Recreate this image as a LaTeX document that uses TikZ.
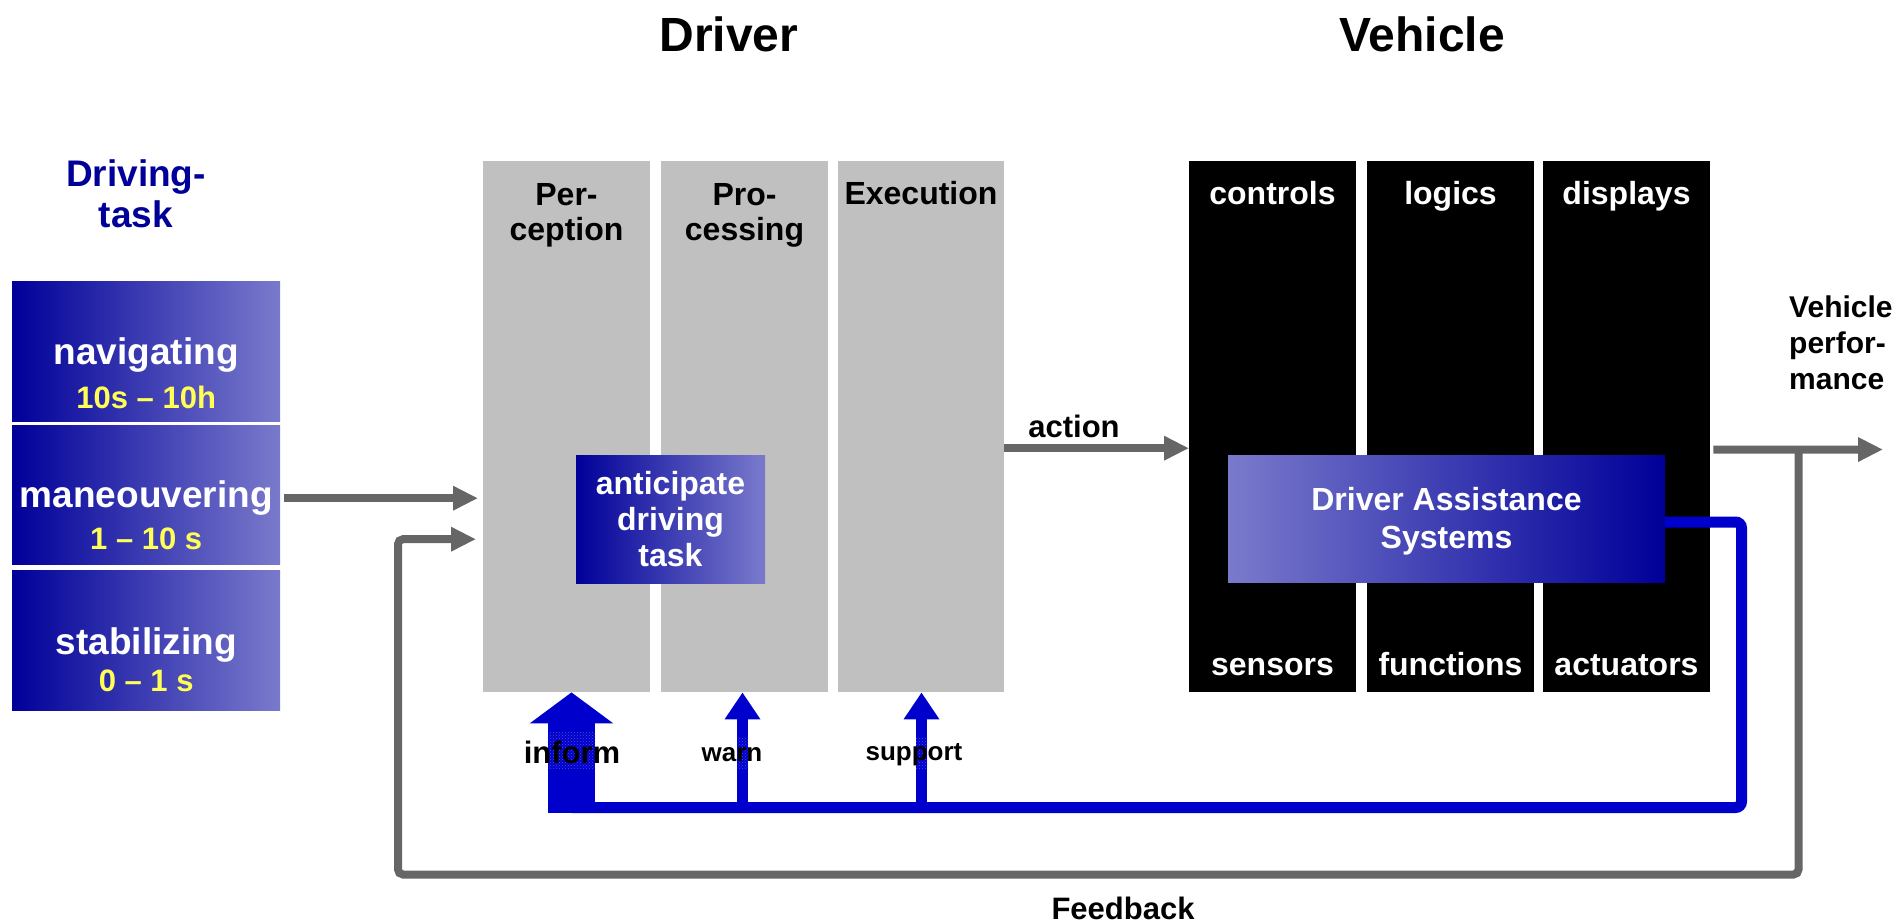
\documentclass[tikz,border=0pt]{standalone}
\usepackage{fontspec}
\setmainfont{Liberation Sans}
\usetikzlibrary{arrows.meta,patterns}

\definecolor{navy}{RGB}{0,0,153}
\definecolor{lav}{RGB}{122,122,204}
\definecolor{lineblue}{RGB}{0,0,204}
\definecolor{colgray}{RGB}{192,192,192}
\definecolor{arrgray}{RGB}{102,102,102}
\definecolor{timeyellow}{RGB}{255,255,85}

\tikzset{
  drvcol/.style={fill=colgray, minimum width=167pt, minimum height=531pt, inner sep=0pt, anchor=north west},
  vehcol/.style={fill=black, minimum width=167pt, minimum height=531pt, inner sep=0pt, anchor=north west},
  taskbox/.style={left color=navy, right color=lav, minimum width=268pt, minimum height=140pt, inner sep=0pt, anchor=north west},
  collabel/.style={inner sep=0pt, align=center, font=\bfseries\fontsize{32}{35}\selectfont},
  tasktext/.style={inner sep=0pt, text=white, font=\bfseries\fontsize{37}{40}\selectfont},
  timetext/.style={inner sep=0pt, text=timeyellow, font=\bfseries\fontsize{31}{34}\selectfont},
  garrow/.style={draw=arrgray, line width=8pt, -{Triangle[length=25pt,width=23pt]}},
  bline/.style={draw=lineblue, line width=11pt},
  barrow/.style={draw=lineblue, line width=11pt, -{Triangle[length=27pt,width=34pt]}},
  patch/.style={fill=white, pattern=crosshatch dots, pattern color=lineblue!70},
}

\begin{document}
\begin{tikzpicture}[x=1pt,y=-1pt]
\useasboundingbox (0,0) rectangle (1903,923);

% headings
\node[inner sep=0pt, font=\bfseries\fontsize{48}{52}\selectfont] (tdrv) at (729,34) {Driver};
\node[inner sep=0pt, font=\bfseries\fontsize{48}{52}\selectfont] (tveh) at (1422,34) {Vehicle};
\node[inner sep=0pt, align=center, text=navy, font=\bfseries\fontsize{37}{41}\selectfont] (ttask) at (136,194) {Driving-\\task};

% driving task levels
\node[taskbox] (nav) at (12,281) {};
\node[taskbox, minimum height=139pt] (man) at (12,425) {};
\node[taskbox] (stab) at (12,570) {};
\node[tasktext] (navt) at ([yshift=-4pt]nav.center) {navigating};
\node[timetext] (navs) at ([yshift=-46pt]nav.center) {10s – 10h};
\node[tasktext] (mant) at ([yshift=-3pt]man.center) {maneouvering};
\node[timetext] (mans) at ([yshift=-44.5pt]man.center) {1 – 10 s};
\node[tasktext] (stabt) at ([yshift=-4.5pt]stab.center) {stabilizing};
\node[timetext] (stabs) at ([yshift=-41pt]stab.center) {0 – 1 s};

% driver columns
\node[drvcol] (perc) at (483,161) {};
\node[drvcol] (proc) at (661,161) {};
\node[drvcol, minimum width=166pt] (exe) at (838,161) {};
\node[collabel] (percl) at (566.5,215) {Per-\\ception};
\node[collabel] (procl) at (744.5,215) {Pro-\\cessing};
\node[collabel, anchor=base] (exel) at (921,204) {Execution};

% vehicle columns
\node[vehcol] (ctrl) at (1189,161) {};
\node[vehcol] (logi) at (1367,161) {};
\node[vehcol] (disp) at (1543,161) {};
\foreach \n/\x/\top/\bot in {c/1272.5/controls/sensors, l/1450.5/logics/functions, d/1626.5/displays/actuators}{
  \node[collabel, text=white, anchor=base] (\n top) at (\x,204) {\top};
  \node[collabel, text=white, anchor=base] (\n bot) at (\x,675) {\bot};
}

% inner boxes
\node[left color=navy, right color=lav, minimum width=189pt, minimum height=128pt, inner sep=0pt,
      align=center, text=white, font=\bfseries\fontsize{32}{36}\selectfont] (antic) at (670.5,519) {anticipate\\driving\\task};
\node[left color=lav, right color=navy, minimum width=437pt, minimum height=127pt, inner sep=0pt] (das) at (1446.5,518.5) {};
\node[inner sep=0pt, align=center, text=white, font=\bfseries\fontsize{32}{38}\selectfont] (dast) at ([yshift=-3pt]das.center) {Driver Assistance\\Systems};

% input arrows into perception
\draw[garrow, shorten >=5pt] ([xshift=4pt,yshift=-3.5pt]man.east) -- ([yshift=-71.5pt]perc.west);
\coordinate (jn) at (1798.5,449.5);
\coordinate (fb) at (398,874.5);
\draw[garrow, rounded corners=5pt, shorten >=7pt] (jn) |- (fb) |- ([yshift=-112.5pt]perc.west);

% action and output
\node[inner sep=0pt, font=\bfseries\fontsize{31}{34}\selectfont] (act) at (1074,426) {action};
\draw[garrow] ([yshift=-21.5pt]exe.east) -- ([yshift=-21.5pt]ctrl.west);
\coordinate (out) at (1883,449.5);
\draw[garrow] ([xshift=3pt,yshift=-23pt]disp.east) -- (out);
\node[inner sep=0pt, anchor=west, align=left, font=\bfseries\fontsize{30}{36}\selectfont] (vperf) at (1789,343) {Vehicle\\perfor-\\mance};
\node[inner sep=0pt, anchor=base, font=\bfseries\fontsize{31}{34}\selectfont] (fbl) at (1123,919.5) {Feedback};

% assistance feedback to the driver
\coordinate (bc) at (1741.5,807.5);
\coordinate (inf) at (571.5,813);
\coordinate (wrn) at (742.5,807.5);
\coordinate (sup) at (921.5,807.5);
\draw[bline, rounded corners=6pt] ([yshift=-3.5pt]das.east) -| (bc) -- (inf |- bc);
\draw[draw=lineblue, line width=47pt, -{Triangle[length=31pt,width=82pt]}] (inf) -- (inf |- perc.south);
\draw[barrow] (wrn) -- (wrn |- proc.south);
\draw[barrow] (sup) -- (sup |- exe.south);

\path[patch] (548,732) rectangle (595,768);
\path[patch] (737,737) rectangle (748,768);
\path[patch] (916,737) rectangle (927,768);

\node[inner sep=0pt, font=\bfseries\fontsize{31}{34}\selectfont] (infl) at (572,752) {inform};
\node[inner sep=0pt, font=\bfseries\fontsize{26}{30}\selectfont] (wrnl) at (732,755) {warn};
\node[inner sep=0pt, font=\bfseries\fontsize{26}{30}\selectfont] (supl) at (914,755) {support};
\end{tikzpicture}
\end{document}
